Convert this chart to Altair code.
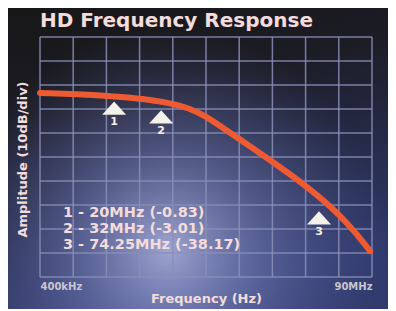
import altair as alt
import pandas as pd

# ---- data ----
chart_title = "HD Frequency Response"
y_title = "Amplitude (10dB/div)"
x_title = "Frequency (Hz)"

# response curve: frequency (MHz) and level (dB, 10 dB per division)
curve_mhz = [0.4, 16.6, 27.4, 33.6, 40.9, 45.5, 49.8, 57.1, 65.2, 73.3, 81.4, 85.4, 89.5]
curve_db = [-23.3, -24.2, -25.6, -26.9, -29.6, -33.4, -37.9, -45.6, -54.2, -63.3, -74.2, -81.3, -89.2]

# markers
marker_ids = ["1", "2", "3"]
marker_mhz = [20.4, 33.1, 75.7]
marker_db = [-29.6, -33.3, -75.4]

# marker readout text
readout_text = ["1 - 20MHz (-0.83)", "2 - 32MHz (-3.01)", "3 - 74.25MHz (-38.17)"]
readout_mhz = [6.6, 6.6, 6.6]
readout_db = [-73.3, -80.0, -86.7]

# grid / ticks
x_grid = [0.4, 9.36, 18.32, 27.28, 36.24, 45.2, 54.16, 63.12, 72.08, 81.04, 90]
y_grid = [-100, -90, -80, -70, -60, -50, -40, -30, -20, -10, 0]
x_tick_values = [0.4, 90]
x_tick_labels = ["400kHz", "90MHz"]

FONT = "DejaVu Sans"
TXT = "#f2dcdc"
GRID = "#8b8fb8"

label_expr = " : ".join(
    f"datum.value == {v} ? '{t}'" for v, t in zip(x_tick_values, x_tick_labels)
) + " : ''"

x_enc = alt.X(
    "mhz:Q",
    scale=alt.Scale(domain=[0.4, 90], nice=False, zero=False),
    axis=alt.Axis(
        values=x_tick_values, grid=False,
        domain=False, ticks=False, labelExpr=label_expr, labelFlush=True,
        labelOverlap=False, labelFont=FONT, labelFontSize=10, labelFontWeight="bold",
        labelColor="#c9c6d0", labelPadding=4,
        title=x_title, titleFont=FONT, titleFontSize=13, titleFontWeight="bold",
        titleColor=TXT, titleX=166, titleY=21, titleBaseline="middle", zindex=1,
    ),
)
y_enc = alt.Y(
    "db:Q",
    scale=alt.Scale(domain=[-100, 0], nice=False, zero=False),
    axis=alt.Axis(
        values=y_grid, grid=False,
        domain=False, ticks=False, labels=False,
        title=y_title, titleFont=FONT, titleFontSize=13, titleFontWeight="bold",
        titleColor=TXT, titleX=-18, titleY=122, titleAngle=-90,
        titleAlign="center", titleBaseline="middle", zindex=1,
    ),
)

one = pd.DataFrame({"k": [0]})
W, H = 332, 240
PL, PT, PR, PB = 32, 29, 16, 32

bg_linear = alt.Chart(one).mark_rect(
    fill={
        "gradient": "linear", "x1": 0, "y1": 0, "x2": 0.3, "y2": 1,
        "stops": [
            {"offset": 0, "color": "#171617"},
            {"offset": 0.35, "color": "#1c1c25"},
            {"offset": 1, "color": "#303a6c"},
        ],
    }
).encode(
    x=alt.value(-PL), x2=alt.value(W + PR), y=alt.value(-PT), y2=alt.value(H + PB)
)

bg_glow = alt.Chart(one).mark_rect(
    fill={
        "gradient": "radial", "x1": 0.42, "y1": 0.74, "r1": 0,
        "x2": 0.42, "y2": 0.74, "r2": 0.58,
        "stops": [
            {"offset": 0, "color": "rgba(178,185,230,0.85)"},
            {"offset": 0.45, "color": "rgba(120,130,192,0.5)"},
            {"offset": 1, "color": "rgba(80,90,150,0)"},
        ],
    }
).encode(
    x=alt.value(-PL), x2=alt.value(W + PR), y=alt.value(-PT), y2=alt.value(H + PB)
)

vgrid = alt.Chart(pd.DataFrame({"mhz": x_grid})).mark_rule(
    color=GRID, strokeWidth=1.5, opacity=0.85
).encode(x=x_enc, y=alt.value(0), y2=alt.value(H))
hgrid = alt.Chart(pd.DataFrame({"db": y_grid})).mark_rule(
    color=GRID, strokeWidth=1.5, opacity=0.85
).encode(y=y_enc, x=alt.value(0), x2=alt.value(W))

curve_df = pd.DataFrame({"mhz": curve_mhz, "db": curve_db})
curve = alt.Chart(curve_df).mark_line(
    color="#ee5a32", strokeWidth=6, strokeCap="round", interpolate="basis"
).encode(x=x_enc, y=y_enc)

mk_df = pd.DataFrame({"id": marker_ids, "mhz": marker_mhz, "db": marker_db})
tri = alt.Chart(mk_df).mark_point(
    shape="M-1,0.55L0,-0.55L1,0.55Z", filled=True, fill="#f4f0ea", opacity=1,
    size=576, strokeWidth=0,
).encode(x=x_enc, y=y_enc)
tri_lbl = alt.Chart(mk_df).mark_text(
    font=FONT, fontSize=11, fontWeight="bold", color="#f4eeee", dy=14,
    baseline="middle",
).encode(x=x_enc, y=y_enc, text="id:N")

rd_df = pd.DataFrame({"t": readout_text, "mhz": readout_mhz, "db": readout_db})
readout = alt.Chart(rd_df).mark_text(
    font=FONT, fontSize=14.5, fontWeight="bold", color=TXT, align="left",
    baseline="middle",
).encode(x=x_enc, y=y_enc, text="t:N")

ttl_df = pd.DataFrame({"t": [chart_title]})
title = alt.Chart(ttl_df).mark_text(
    font=FONT, fontSize=20, fontWeight="bold", color=TXT, align="left",
    baseline="alphabetic",
).encode(x=alt.value(0), y=alt.value(-10), text="t:N")

chart = alt.layer(bg_linear, bg_glow, vgrid, hgrid, curve, tri, tri_lbl, readout, title).properties(
    width=W, height=H,
    padding={"left": PL, "top": PT, "right": PR, "bottom": PB},
    autosize=alt.AutoSizeParams(type="none"),
    background="#19181a",
).configure_view(strokeWidth=0)

chart.save("out.html", embed_options={"renderer": "svg", "actions": False})
